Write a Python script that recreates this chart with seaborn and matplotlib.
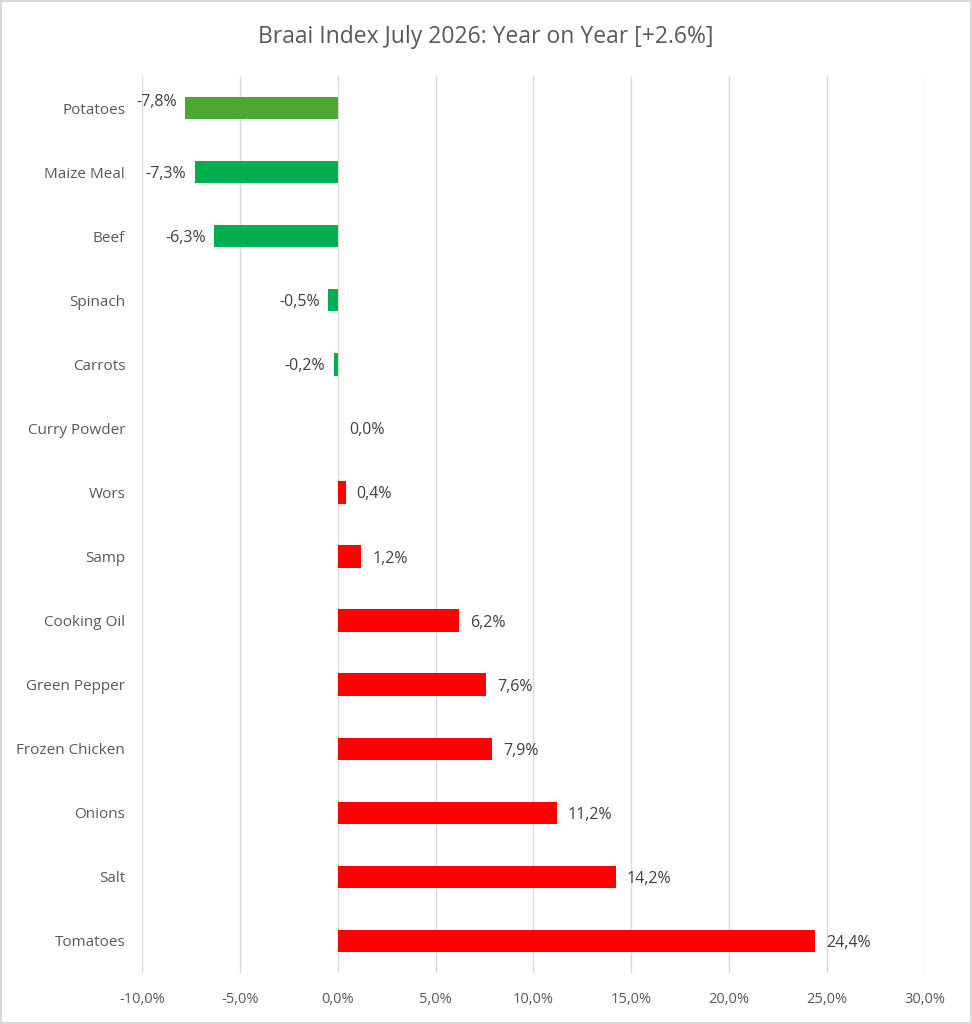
import matplotlib
matplotlib.use("Agg")
import matplotlib.pyplot as plt
import matplotlib.patches as mpatches
import seaborn as sns
import pandas as pd

categories = ["Potatoes", "Maize Meal", "Beef", "Spinach", "Carrots", "Curry Powder",
              "Wors", "Samp", "Cooking Oil", "Green Pepper", "Frozen Chicken",
              "Onions", "Salt", "Tomatoes"]
values = [-7.8, -7.3, -6.3, -0.5, -0.2, 0.0, 0.4, 1.2, 6.2, 7.6, 7.9, 11.2, 14.2, 24.4]
bar_colors = ["#4EA72E", "#00B050", "#00B050", "#00B050", "#00B050", "#FF0000",
              "#FF0000", "#FF0000", "#FF0000", "#FF0000", "#FF0000", "#FF0000",
              "#FF0000", "#FF0000"]
xticks = [-10, -5, 0, 5, 10, 15, 20, 25, 30]
title = "Braai Index July 2026: Year on Year [+2.6%]"

sns.set_theme(style="white")
plt.rcParams['font.family'] = ['Open Sans', 'DejaVu Sans']

df = pd.DataFrame({"cat": categories, "val": values})

fig = plt.figure(figsize=(9.72, 10.24), dpi=100)
ax = fig.add_axes([0.146, 0.0498, 0.9516 - 0.146, 0.9258 - 0.0498])

sns.barplot(data=df, x="val", y="cat", hue="cat", palette=bar_colors, order=categories,
            hue_order=categories, legend=False, width=0.35, ax=ax, orient="h",
            edgecolor="none", linewidth=0, saturation=1)

ax.set_xlim(-10, 30)
ax.set_ylim(len(categories) - 0.5, -0.5)
ax.set_xticks(xticks)
ax.set_xticklabels([f"{t:.1f}%".replace(".", ",") for t in xticks])
ax.grid(axis="x", color="#D9D9D9", linewidth=1)
ax.set_axisbelow(True)
for s in ax.spines.values():
    s.set_visible(False)
ax.tick_params(axis="both", length=0, colors="#595959", labelsize=11)
ax.tick_params(axis="y", pad=12)
ax.tick_params(axis="x", pad=14)
for lbl in ax.get_xticklabels():
    lbl.set_fontsize(10.5)
ax.set_xlabel("")
ax.set_ylabel("")

for i, v in enumerate(values):
    txt = f"{v:.1f}%".replace(".", ",")
    if v < 0:
        dy = -0.12 if i == 0 else 0
        ax.annotate(txt, (v, i + dy), xytext=(-6, 0), textcoords="offset points",
                    ha="right", va="center_baseline", fontsize=11.5, color="#404040")
    else:
        ax.annotate(txt, (v, i), xytext=(8, 0), textcoords="offset points",
                    ha="left", va="center_baseline", fontsize=11.5, color="#404040")

fig.text(0.5, 1 - 37 / 1024, title, ha="center", va="center", fontsize=16.5, color="#595959")

fig.patches.append(mpatches.Rectangle((0.001, 0.001), 0.998, 0.998, transform=fig.transFigure,
                                      fill=False, edgecolor="#D9D9D9", linewidth=1.5))

fig.savefig("out.png", dpi=100)
